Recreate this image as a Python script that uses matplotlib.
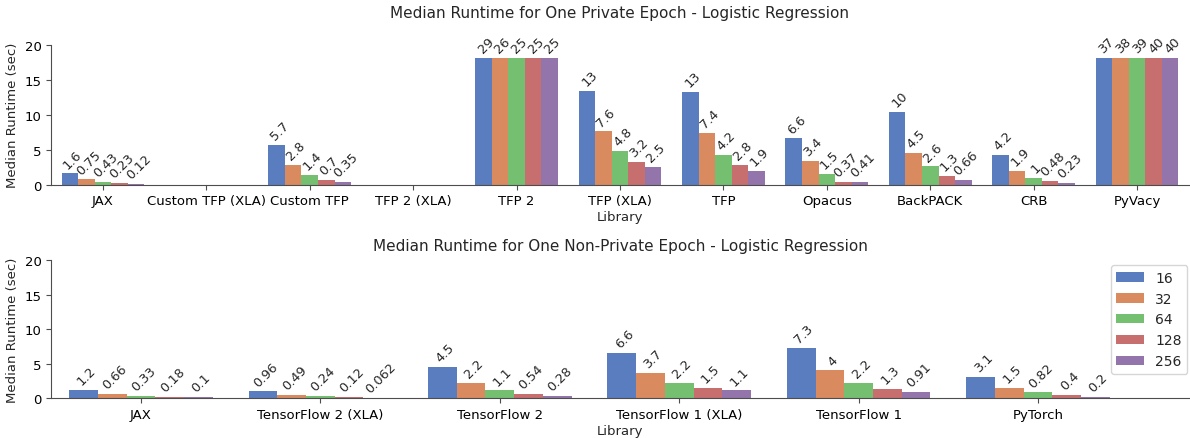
import matplotlib
matplotlib.use("Agg")
import matplotlib.pyplot as plt
import seaborn as sns
import numpy as np

sns.set_style("ticks")
plt.rcParams['font.family'] = ['DejaVu Sans']
plt.rcParams['axes.edgecolor'] = '0.3'
plt.rcParams['xtick.color'] = '0.3'
plt.rcParams['ytick.color'] = '0.3'
plt.rcParams['xtick.labelcolor'] = 'black'
plt.rcParams['ytick.labelcolor'] = 'black'

batch_sizes = ["16", "32", "64", "128", "256"]

private_libs = ["JAX", "Custom TFP (XLA)", "Custom TFP", "TFP 2 (XLA)", "TFP 2",
                "TFP (XLA)", "TFP", "Opacus", "BackPACK", "CRB", "PyVacy"]
# one row per library, columns = batch sizes; 0 means no run
private_vals = [
    [1.6, 0.75, 0.43, 0.23, 0.12],
    [0, 0, 0, 0, 0],
    [5.7, 2.8, 1.4, 0.7, 0.35],
    [0, 0, 0, 0, 0],
    [29, 26, 25, 25, 25],
    [13.4, 7.6, 4.8, 3.2, 2.5],
    [13.3, 7.4, 4.2, 2.8, 1.9],
    [6.6, 3.4, 1.5, 0.37, 0.41],
    [10.4, 4.5, 2.6, 1.3, 0.66],
    [4.2, 1.9, 1, 0.48, 0.23],
    [37, 38, 39, 40, 40],
]

nonprivate_libs = ["JAX", "TensorFlow 2 (XLA)", "TensorFlow 2",
                   "TensorFlow 1 (XLA)", "TensorFlow 1", "PyTorch"]
nonprivate_vals = [
    [1.2, 0.66, 0.33, 0.18, 0.1],
    [0.96, 0.49, 0.24, 0.12, 0.062],
    [4.5, 2.2, 1.1, 0.54, 0.28],
    [6.6, 3.7, 2.2, 1.5, 1.1],
    [7.3, 4, 2.2, 1.3, 0.91],
    [3.1, 1.5, 0.82, 0.4, 0.2],
]

CAP = 18.1
colors = [sns.desaturate(c, 0.75) for c in sns.color_palette("muted", len(batch_sizes))]


def draw(ax, libs, vals, title, pad, xmax, legend=False):
    vals = np.array(vals, dtype=float)
    x = np.arange(len(libs))
    w = 0.8 / len(batch_sizes)
    for j, bs in enumerate(batch_sizes):
        heights = np.minimum(vals[:, j], CAP)
        pos = x - 0.4 + w * (j + 0.5)
        ax.bar(pos, heights, w, color=colors[j], label=bs, linewidth=0)
        for p, h, v in zip(pos, heights, vals[:, j]):
            if v > 0:
                ax.annotate("%.2g" % v, (p, h), xytext=(2, 2),
                            textcoords="offset points", ha="center",
                            va="bottom", rotation=45, fontsize=9.3)
    ax.set_xticks(x)
    ax.set_xticklabels(libs, fontsize=9.5)
    ax.set_xlim(-0.5, xmax)
    ax.set_ylim(0, 20)
    ax.set_yticks([0, 5, 10, 15, 20])
    ax.tick_params(axis="y", labelsize=9.5)
    ax.set_xlabel("Library", fontsize=9.5, labelpad=2)
    ax.set_ylabel("Median Runtime (sec)", fontsize=9.5)
    ax.set_title(title, fontsize=11, pad=pad)
    sns.despine(ax=ax)
    if legend:
        ax.legend(loc="upper right", fontsize=10, borderaxespad=0.1,
                  bbox_to_anchor=(1.0, 0.975))


fig = plt.figure(figsize=(11.9, 4.39), dpi=100)
ax1 = fig.add_axes([0.043, 0.577, 0.956, 0.319])
ax2 = fig.add_axes([0.043, 0.091, 0.956, 0.314])

draw(ax1, private_libs, private_vals,
     "Median Runtime for One Private Epoch - Logistic Regression", pad=20,
     xmax=10.5)
draw(ax2, nonprivate_libs, nonprivate_vals,
     "Median Runtime for One Non-Private Epoch - Logistic Regression", pad=7,
     xmax=5.84, legend=True)

fig.savefig("out.png", dpi=100)
